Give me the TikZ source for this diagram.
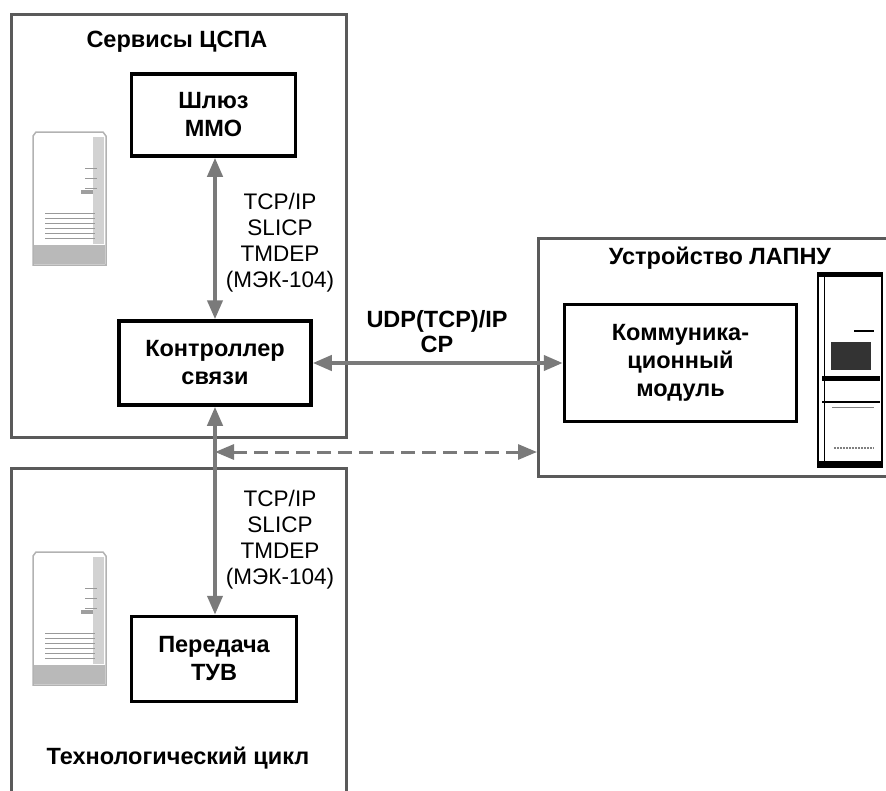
\documentclass[tikz,border=0pt]{standalone}
\usepackage{fontspec}
\setmainfont{Liberation Sans}
\usetikzlibrary{arrows.meta}
\definecolor{framegray}{HTML}{5A5A5A}
\definecolor{arrowgray}{HTML}{7A7A7A}
\tikzset{
  block/.style={draw=black,line width=3.5pt,fill=white,align=center,inner sep=0pt,
    font=\fontsize{23.5}{28}\selectfont\bfseries},
  zone/.style={draw=framegray,line width=3pt,inner sep=0pt},
  title/.style={align=center,font=\fontsize{23.5}{25}\selectfont\bfseries},
  proto/.style={align=center,font=\fontsize{22.5}{26}\selectfont},
  link/.style={arrowgray,line width=4pt,
    {Triangle[length=19pt,width=15pt]}-{Triangle[length=19pt,width=15pt]}},
  % tower server, drawn from its top left corner
  servericon/.pic={
    \draw[gray!60,line width=1.5pt,fill=white] (0,133) -- (0,4) -- (3,0) -- (70,0) -- (73,4) -- (73,133) -- cycle;
    \fill[gray!35] (60,5) rectangle (71,112);
    \fill[gray!55] (1,113) rectangle (72,132);
    \foreach \yy in {81,86,...,106} \draw[gray!80,line width=1pt] (12,\yy) -- (62,\yy);
    \fill[gray!75] (48,58) rectangle (60,62);
    \foreach \yy in {36,46,56} \draw[gray!80,line width=1pt] (52,\yy) -- (64,\yy);
  },
  % LAPNU cabinet
  cabinet/.pic={
    \draw[line width=2pt,fill=white] (0,0) rectangle (64,194);
    \fill (0,0) rectangle (64,4);
    \fill (0,188) rectangle (64,194);
    \draw[line width=1pt] (6,4) -- (6,188);
    \draw[line width=1.5pt] (36,58) -- (56,58);
    \fill[black!80] (13,69) rectangle (53,97);
    \fill (4,103) rectangle (62,108);
    \draw[line width=1.5pt] (4,129) -- (62,129);
    \draw[gray,line width=1pt] (14,134) -- (56,134);
    \draw[gray,line width=1.5pt,dash pattern=on 2pt off 1pt] (16,175) -- (56,175);
  },
}
\begin{document}
\begin{tikzpicture}[x=1pt,y=-1pt]
  \useasboundingbox (0,0) rectangle (886,790);
  \clip (0,0) rectangle (886,790);
  % zones
  \node[zone,anchor=north west,minimum width=335pt,minimum height=423pt] (cspa) at (10,13) {};
  \node[zone,anchor=north west,minimum width=380pt,minimum height=238pt] (lapnu) at (537,237) {};
  \node[zone,anchor=north west,minimum width=335pt,minimum height=360pt] (tech) at (10,467) {};
  \node[title] (cspatitle) at (177,42) {Сервисы ЦСПА};
  \node[title] (lapnutitle) at (720,258) {Устройство ЛАПНУ};
  \node[title] (techtitle) at (178,758) {Технологический цикл};
  \pic (srvA) at (33,132) {servericon};
  \pic (srvB) at (33,552) {servericon};
  \pic (cab) at (818,273) {cabinet};
  % blocks
  \node[block,minimum width=164pt,minimum height=82pt] (mmo) at (213.5,115) {Шлюз\\ММО};
  \node[block,minimum width=192pt,minimum height=84pt] (ctrl) at (215,363) {Контроллер\\связи};
  \node[block,minimum width=232pt,minimum height=117pt] (comm) at (680.5,363) {Коммуника-\\ционный\\модуль};
  \node[block,minimum width=165pt,minimum height=85pt] (tuv) at (214,659) {Передача\\ТУВ};
  % protocols
  \node[proto] (protoup) at (280,243) {TCP/IP\\SLICP\\TMDEP\\(МЭК-104)};
  \node[proto] (protodown) at (280,540) {TCP/IP\\SLICP\\TMDEP\\(МЭК-104)};
  \node[title] (protoudp) at (437,332) {UDP(TCP)/IP\\CP};
  % links
  \draw[link] (ctrl.north) -- (ctrl.north |- mmo.south);
  \draw[link] (ctrl.south) -- (ctrl.south |- tuv.north);
  \draw[link] (ctrl.east) -- (comm.west);
  \coordinate (tap) at (215,452);
  \draw[link,line width=3pt,dash pattern=on 14pt off 7pt] (tap) -- (tap -| lapnu.west);
\end{tikzpicture}
\end{document}
